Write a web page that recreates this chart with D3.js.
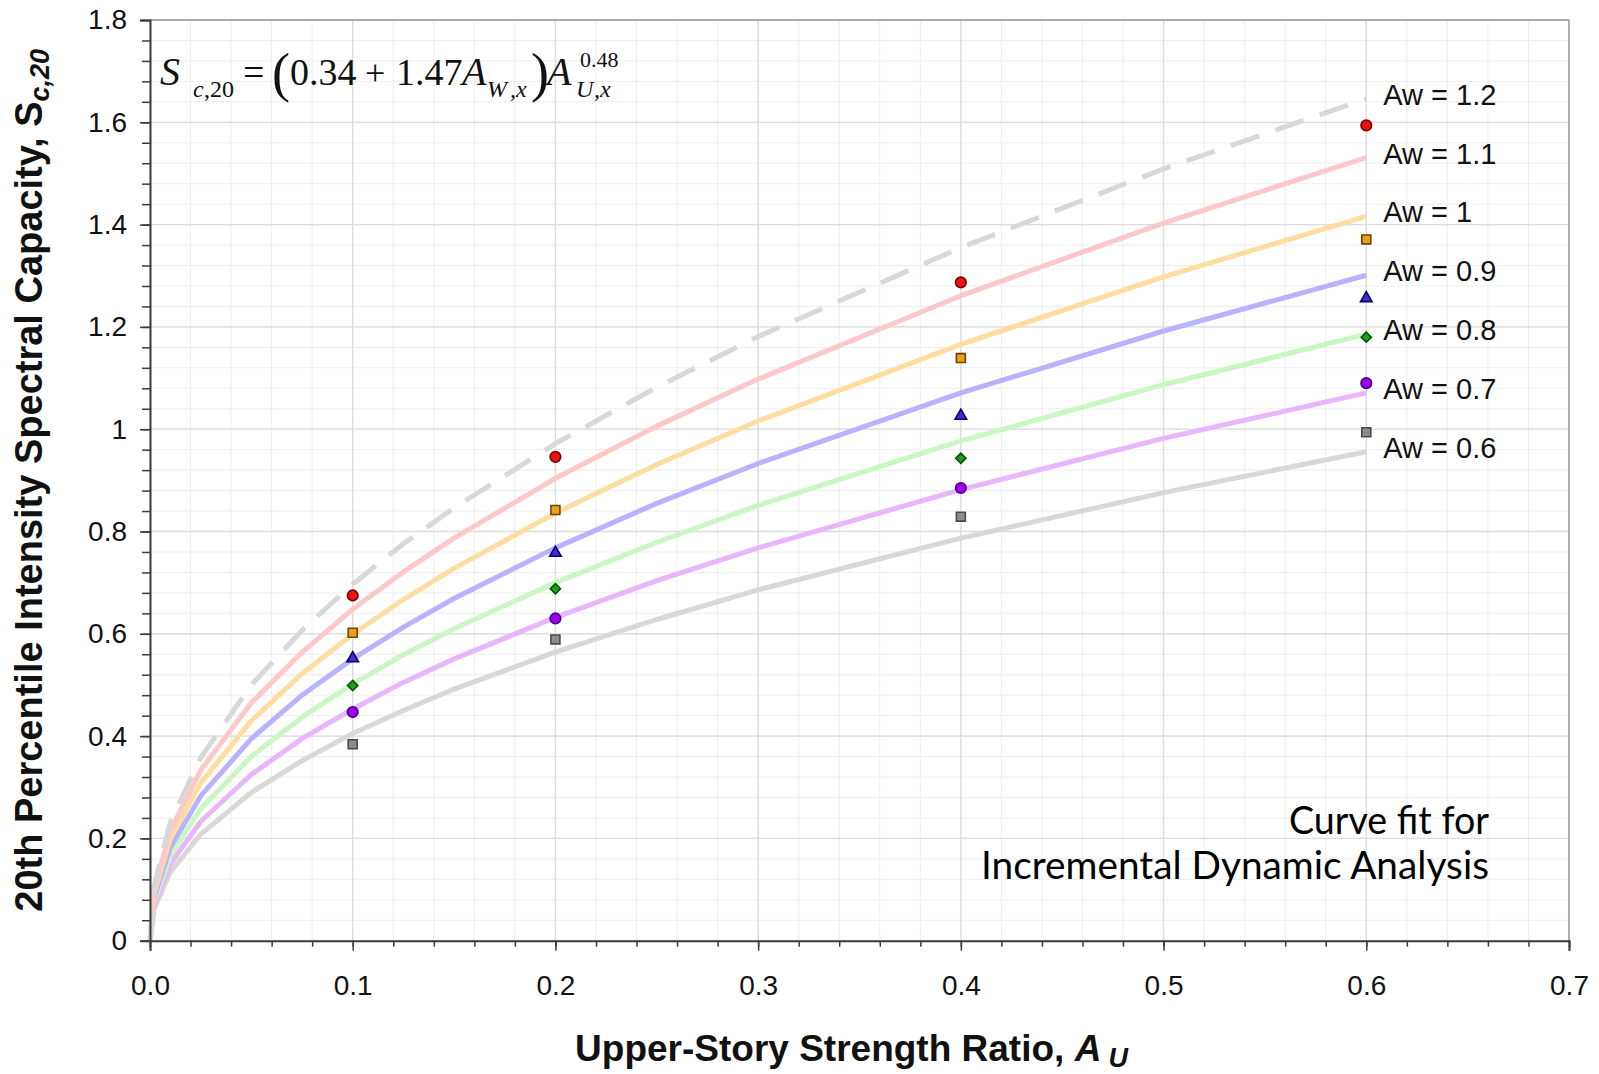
<!DOCTYPE html>
<html>
<head>
<meta charset="utf-8">
<script src="https://cdn.jsdelivr.net/npm/d3@7"></script>
<style>
  body { margin: 0; background: #fff; }
  svg { display: block; }
  .tick text { font-family: "Liberation Sans", Arial, sans-serif; fill: #111; }
</style>
</head>
<body>
<script>
// Au values where the fitted curves were sampled
var auGrid = [0, 0.002, 0.01, 0.025, 0.05, 0.075, 0.1, 0.125, 0.15, 0.2, 0.25, 0.3, 0.4, 0.5, 0.6];

// fitted curves, one per Aw level
var fitAw12 = [0, 0.107, 0.231, 0.358, 0.500, 0.607, 0.697, 0.776, 0.846, 0.972, 1.082, 1.181, 1.355, 1.509, 1.646];
var fitAw11 = [0, 0.099, 0.215, 0.333, 0.465, 0.564, 0.648, 0.721, 0.787, 0.904, 1.006, 1.098, 1.261, 1.403, 1.531];
var fitAw10 = [0, 0.092, 0.199, 0.308, 0.430, 0.522, 0.599, 0.667, 0.728, 0.836, 0.931, 1.016, 1.166, 1.298, 1.416];
var fitAw09 = [0, 0.084, 0.182, 0.283, 0.395, 0.480, 0.551, 0.613, 0.669, 0.768, 0.855, 0.933, 1.071, 1.192, 1.301];
var fitAw08 = [0, 0.077, 0.166, 0.258, 0.360, 0.437, 0.502, 0.559, 0.610, 0.700, 0.779, 0.851, 0.977, 1.087, 1.186];
var fitAw07 = [0, 0.069, 0.150, 0.233, 0.325, 0.395, 0.453, 0.505, 0.551, 0.632, 0.704, 0.768, 0.882, 0.982, 1.071];
var fitAw06 = [0, 0.062, 0.134, 0.208, 0.290, 0.352, 0.405, 0.450, 0.492, 0.564, 0.628, 0.686, 0.787, 0.876, 0.956];

// IDA results at the analysed Au values
var auPoints = [0.1, 0.2, 0.4, 0.6];
var idaAw11 = [0.675, 0.946, 1.287, 1.594];
var idaAw10 = [0.602, 0.842, 1.139, 1.371];
var idaAw09 = [0.552, 0.758, 1.026, 1.256];
var idaAw08 = [0.499, 0.688, 0.943, 1.180];
var idaAw07 = [0.447, 0.630, 0.885, 1.090];
var idaAw06 = [0.384, 0.589, 0.829, 0.994];

var curveLabels = ["Aw = 1.2", "Aw = 1.1", "Aw = 1", "Aw = 0.9", "Aw = 0.8", "Aw = 0.7", "Aw = 0.6"];

var xMajor = [0, 0.1, 0.2, 0.3, 0.4, 0.5, 0.6, 0.7];
var yMajor = [0, 0.2, 0.4, 0.6, 0.8, 1, 1.2, 1.4, 1.6, 1.8];

var W = 1599, H = 1074;
var svg = d3.select("body").append("svg").attr("width", W).attr("height", H);

var x = d3.scaleLinear().domain([0, 0.7]).range([150, 1569]);
var y = d3.scaleLinear().domain([0, 1.8]).range([940.7, 20]);

var xMinor = d3.range(0, 36).map(function(i) { return +(i * 0.02).toFixed(2); });
var yMinor = d3.range(0, 46).map(function(i) { return +(i * 0.04).toFixed(2); });

// grid: minor first, then major
var grid = svg.append("g");
grid.selectAll(".vminor").data(xMinor).enter().append("line")
    .attr("x1", function(d) { return x(d); }).attr("x2", function(d) { return x(d); })
    .attr("y1", y(0)).attr("y2", y(1.8))
    .attr("stroke", "#eeeeee").attr("stroke-width", 1);
grid.selectAll(".hminor").data(yMinor).enter().append("line")
    .attr("y1", function(d) { return y(d); }).attr("y2", function(d) { return y(d); })
    .attr("x1", x(0)).attr("x2", x(0.7))
    .attr("stroke", "#eeeeee").attr("stroke-width", 1);
grid.selectAll(".vmajor").data(xMajor).enter().append("line")
    .attr("x1", function(d) { return x(d); }).attr("x2", function(d) { return x(d); })
    .attr("y1", y(0)).attr("y2", y(1.8))
    .attr("stroke", "#dcdcdc").attr("stroke-width", 1.3);
grid.selectAll(".hmajor").data(yMajor).enter().append("line")
    .attr("y1", function(d) { return y(d); }).attr("y2", function(d) { return y(d); })
    .attr("x1", x(0)).attr("x2", x(0.7))
    .attr("stroke", "#dcdcdc").attr("stroke-width", 1.3);

// frame top / right
svg.append("line").attr("x1", x(0)).attr("x2", x(0.7)).attr("y1", y(1.8)).attr("y2", y(1.8))
    .attr("stroke", "#9a9a9a").attr("stroke-width", 1.5);
svg.append("line").attr("x1", x(0.7)).attr("x2", x(0.7)).attr("y1", y(0)).attr("y2", y(1.8))
    .attr("stroke", "#9a9a9a").attr("stroke-width", 1.5);

// fitted curves
var curves = [
  {vals: fitAw06, color: "#d8d8d8", dash: null},
  {vals: fitAw07, color: "#e8b6fb", dash: null},
  {vals: fitAw08, color: "#c9f6c3", dash: null},
  {vals: fitAw09, color: "#b8b2ff", dash: null},
  {vals: fitAw10, color: "#ffdca0", dash: null},
  {vals: fitAw11, color: "#ffc8c8", dash: null},
  {vals: fitAw12, color: "#d8d8d8", dash: "30,17"}
];
var line = d3.line()
    .x(function(d) { return x(d[0]); })
    .y(function(d) { return y(d[1]); });

curves.forEach(function(c) {
  svg.append("path")
      .datum(auGrid.map(function(a, i) { return [a, c.vals[i]]; }))
      .attr("d", line)
      .attr("fill", "none")
      .attr("stroke", c.color)
      .attr("stroke-width", 5)
      .attr("stroke-dasharray", c.dash)
      .attr("stroke-linejoin", "round");
});

// curve labels next to the curve ends
var ends = [fitAw12, fitAw11, fitAw10, fitAw09, fitAw08, fitAw07, fitAw06];
svg.selectAll(".clabel").data(curveLabels).enter().append("text")
    .attr("x", x(0.6) + 17)
    .attr("y", function(d, i) { return y(ends[i][ends[i].length - 1]) + 6; })
    .style("font-family", "Liberation Sans, Arial, sans-serif")
    .style("font-size", "29px")
    .attr("fill", "#111")
    .text(function(d) { return d; });

// axes
var yAxis = svg.append("g").attr("transform", "translate(" + x(0) + ",0)")
    .call(d3.axisLeft(y).tickValues(yMajor).tickSize(10).tickPadding(13)
      .tickFormat(function(d) { return String(+d.toFixed(1)); }));
var yMinorAxis = svg.append("g").attr("transform", "translate(" + x(0) + ",0)")
    .call(d3.axisLeft(y).tickValues(yMinor).tickSize(8).tickFormat(""));
var xAxis = svg.append("g").attr("transform", "translate(0," + y(0) + ")")
    .call(d3.axisBottom(x).tickValues(xMajor).tickSize(10).tickPadding(24)
      .tickFormat(d3.format(".1f")));
var xMinorAxis = svg.append("g").attr("transform", "translate(0," + y(0) + ")")
    .call(d3.axisBottom(x).tickValues(xMinor).tickSize(6).tickFormat(""));

[yAxis, yMinorAxis, xAxis, xMinorAxis].forEach(function(g) {
  g.select(".domain").attr("stroke", "#3c3c3c").attr("stroke-width", 2);
  g.selectAll(".tick line").attr("stroke", "#3c3c3c").attr("stroke-width", 1.5);
  g.selectAll(".tick text").style("font-size", "28px");
});
yMinorAxis.select(".domain").remove();
xMinorAxis.select(".domain").remove();

// IDA markers
var sym = function(type, size) { return d3.symbol().type(type).size(size)(); };
var markerSets = [
  {vals: idaAw06, type: d3.symbolSquare, size: 80, rot: 0, fill: "#8c8c8c", stroke: "#4a4a4a"},
  {vals: idaAw07, type: d3.symbolCircle, size: 88, rot: 0, fill: "#9a00f0", stroke: "#4b0082"},
  {vals: idaAw08, type: d3.symbolSquare, size: 52, rot: 45, fill: "#1e9e1e", stroke: "#005200"},
  {vals: idaAw09, type: d3.symbolTriangle, size: 58, rot: 0, fill: "#3a2fd0", stroke: "#10006e"},
  {vals: idaAw10, type: d3.symbolSquare, size: 80, rot: 0, fill: "#e8a020", stroke: "#6e4600"},
  {vals: idaAw11, type: d3.symbolCircle, size: 88, rot: 0, fill: "#e81414", stroke: "#7a0000"}
];
markerSets.forEach(function(m) {
  svg.append("g").selectAll("path")
      .data(auPoints.map(function(a, i) { return [a, m.vals[i]]; }))
      .enter().append("path")
      .attr("d", sym(m.type, m.size))
      .attr("transform", function(d) {
        return "translate(" + x(d[0]) + "," + y(d[1]) + ") rotate(" + m.rot + ")";
      })
      .attr("fill", m.fill)
      .attr("stroke", m.stroke)
      .attr("stroke-width", 1.6);
});

// equation (Times-like math)
var eq = svg.append("g").style("font-family", "Liberation Serif, Times New Roman, serif").attr("fill", "#111");
function piece(txt, px, py, size, italic) {
  eq.append("text").attr("x", px).attr("y", py)
    .style("font-size", size + "px")
    .style("font-style", italic ? "italic" : "normal")
    .text(txt);
}
piece("S", 160, 85, 40, true);
piece("c", 193, 97, 24, true);
piece(",20", 204, 97, 24, false);
piece("=", 243, 85, 38, false);
piece("(", 272, 91, 54, false);
piece("0.34", 290, 85, 38, false);
piece("+", 365, 85, 36, false);
piece("1.47", 396, 85, 38, false);
piece("A", 462, 85, 40, true);
piece("W", 487, 97, 24, true);
piece(",x", 510, 97, 24, true);
piece(")", 531, 91, 54, false);
piece("A", 547, 85, 40, true);
piece("U", 576, 97, 24, true);
piece(",x", 594, 97, 24, true);
piece("0.48", 580, 67, 22, false);

// annotation
var note = svg.append("g").style("font-family", "Lato, 'Open Sans', sans-serif")
    .style("font-size", "38px").attr("fill", "#000").attr("text-anchor", "end");
note.append("text").attr("x", 1489).attr("y", 834).attr("textLength", 200).attr("lengthAdjust", "spacingAndGlyphs")
    .text("Curve fit for");
note.append("text").attr("x", 1489).attr("y", 879).attr("textLength", 508).attr("lengthAdjust", "spacingAndGlyphs")
    .text("Incremental Dynamic Analysis");

// x axis title
var xt = svg.append("text")
    .attr("x", (x(0) + x(0.7)) / 2 - 8)
    .attr("y", 1061)
    .attr("text-anchor", "middle")
    .style("font-family", "Liberation Sans, Arial, sans-serif")
    .style("font-size", "37px")
    .style("font-weight", "bold")
    .attr("fill", "#111");
xt.append("tspan").text("Upper-Story Strength Ratio, ");
xt.append("tspan").style("font-style", "italic").text("A");
xt.append("tspan").style("font-style", "italic").style("font-size", "27px").attr("dx", 7).attr("dy", 6).text("U");

// y axis title
var yt = svg.append("text")
    .attr("transform", "translate(42," + ((y(0) + y(1.8)) / 2) + ") rotate(-90)")
    .attr("text-anchor", "middle")
    .style("font-family", "Liberation Sans, Arial, sans-serif")
    .style("font-size", "38px")
    .style("font-weight", "bold")
    .attr("fill", "#111");
yt.append("tspan").text("20th Percentile Intensity Spectral Capacity, S");
yt.append("tspan").style("font-style", "italic").style("font-size", "27px").attr("dy", 7).text("c,20");
</script>
</body>
</html>
